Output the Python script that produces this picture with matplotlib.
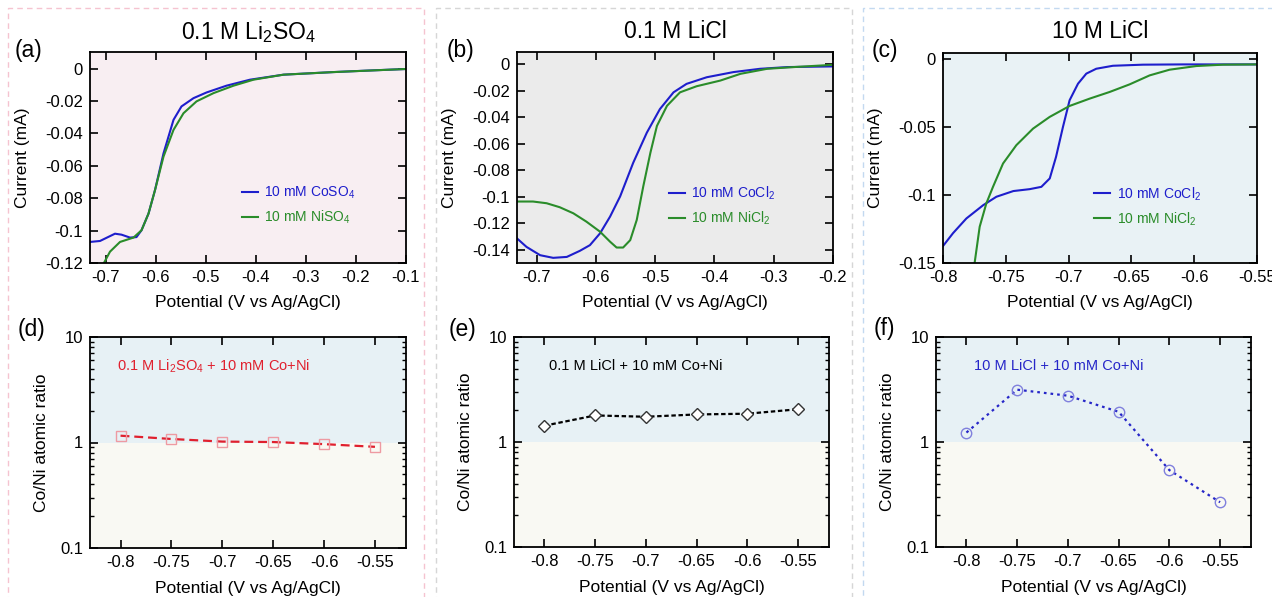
import matplotlib
matplotlib.use("Agg")
import matplotlib.pyplot as plt
import numpy as np
from matplotlib.patches import Rectangle
from matplotlib.ticker import MultipleLocator, FuncFormatter, LogLocator, NullFormatter

plt.rcParams["font.family"] = ["Liberation Sans", "DejaVu Sans"]
plt.rcParams["mathtext.fontset"] = "custom"
plt.rcParams["mathtext.rm"] = "Liberation Sans"
plt.rcParams["mathtext.it"] = "Liberation Sans:italic"
plt.rcParams["axes.unicode_minus"] = False

W, H = 1272, 597

BLUE = "#1e1ecc"
GREEN = "#2a8c2a"
RED = "#e0202e"

# ---- linear sweep voltammetry, 0.1 M Li2SO4 ----
a_co_v = [-0.732, -0.712, -0.682, -0.669, -0.652, -0.639, -0.629, -0.615, -0.602,
          -0.585, -0.565, -0.549, -0.525, -0.499, -0.459, -0.412, -0.345, -0.245,
          -0.179, -0.1]
a_co_i = [-0.107, -0.1064, -0.1019, -0.1025, -0.1043, -0.104, -0.0998, -0.0895, -0.075,
          -0.0523, -0.0316, -0.0233, -0.0182, -0.0147, -0.0105, -0.0068, -0.0037,
          -0.0021, -0.0012, -0.0002]
a_ni_v = [-0.712, -0.705, -0.692, -0.672, -0.645, -0.629, -0.615, -0.602, -0.585,
          -0.565, -0.545, -0.519, -0.485, -0.445, -0.405, -0.345, -0.245, -0.1]
a_ni_i = [-0.125, -0.1205, -0.113, -0.107, -0.1043, -0.0998, -0.0895, -0.075, -0.0543,
          -0.0378, -0.0275, -0.0202, -0.0151, -0.0105, -0.0068, -0.0037, -0.0021, -0.0002]

# ---- 0.1 M LiCl ----
b_co_v = [-0.733, -0.717, -0.694, -0.672, -0.649, -0.627, -0.61, -0.593, -0.576,
          -0.559, -0.537, -0.514, -0.492, -0.469, -0.447, -0.413, -0.368, -0.323,
          -0.277, -0.2]
b_co_i = [-0.1316, -0.138, -0.1443, -0.1463, -0.1456, -0.141, -0.1367, -0.1278, -0.1151,
          -0.0998, -0.0744, -0.0516, -0.0338, -0.0211, -0.0147, -0.0097, -0.0058,
          -0.0033, -0.002, -0.0015]
b_ni_v = [-0.733, -0.706, -0.683, -0.661, -0.638, -0.616, -0.593, -0.576, -0.565,
          -0.554, -0.542, -0.531, -0.52, -0.508, -0.497, -0.48, -0.458, -0.43, -0.39,
          -0.356, -0.311, -0.266, -0.2]
b_ni_i = [-0.1037, -0.1037, -0.105, -0.108, -0.1126, -0.1189, -0.1265, -0.1341, -0.1385,
          -0.1385, -0.1329, -0.1176, -0.0922, -0.0668, -0.0465, -0.0313, -0.0211,
          -0.0165, -0.0122, -0.0071, -0.0033, -0.002, -0.0003]

# ---- 10 M LiCl ----
c_co_v = [-0.8, -0.792, -0.7814, -0.768, -0.7575, -0.744, -0.731, -0.7217, -0.715,
          -0.71, -0.7045, -0.6992, -0.6925, -0.6859, -0.678, -0.6647, -0.6408, -0.609,
          -0.55]
c_co_i = [-0.1375, -0.128, -0.1172, -0.1074, -0.1012, -0.097, -0.0956, -0.0939, -0.0877,
          -0.0718, -0.0498, -0.0301, -0.0179, -0.0105, -0.0069, -0.0047, -0.0039,
          -0.0037, -0.0037]
c_ni_v = [-0.7756, -0.7748, -0.7708, -0.7655, -0.7602, -0.7522, -0.7416, -0.7283,
          -0.7151, -0.6992, -0.6832, -0.6673, -0.6514, -0.6355, -0.6196, -0.5983,
          -0.5771, -0.55]
c_ni_i = [-0.1527, -0.1498, -0.1233, -0.1061, -0.0939, -0.0767, -0.0632, -0.051,
          -0.0424, -0.0343, -0.0289, -0.024, -0.0184, -0.0118, -0.0076, -0.0049,
          -0.0039, -0.0037]

# ---- Co/Ni ratio in the deposits ----
dep_potential = [-0.8, -0.75, -0.7, -0.65, -0.6, -0.55]
ratio_li2so4 = [1.16, 1.08, 1.02, 1.01, 0.965, 0.91]
ratio_licl_dilute = [1.43, 1.79, 1.74, 1.83, 1.86, 2.05]
ratio_licl_conc = [1.23, 3.15, 2.76, 1.94, 0.54, 0.267]

titles = ["0.1 M Li$_2$SO$_4$", "0.1 M LiCl", "10 M LiCl"]
co_labels = ["10 mM CoSO$_4$", "10 mM CoCl$_2$", "10 mM CoCl$_2$"]
ni_labels = ["10 mM NiSO$_4$", "10 mM NiCl$_2$", "10 mM NiCl$_2$"]
notes = ["0.1 M Li$_2$SO$_4$ + 10 mM Co+Ni", "0.1 M LiCl + 10 mM Co+Ni",
         "10 M LiCl + 10 mM Co+Ni"]


def fmt(v, pos):
    return "0" if abs(v) < 1e-9 else f"{v:g}"


def px_axes(fig, left, right, top, bottom):
    return fig.add_axes([left / W, 1 - bottom / H, (right - left) / W, (bottom - top) / H])


def style(ax):
    ax.tick_params(which="both", direction="in", top=True, right=True,
                   labelsize=12, pad=5)
    ax.tick_params(which="major", length=6, width=1.2)
    ax.tick_params(which="minor", length=3, width=1.0)
    for s in ax.spines.values():
        s.set_linewidth(1.3)
    ax.xaxis.set_major_formatter(FuncFormatter(fmt))


fig = plt.figure(figsize=(W / 100, H / 100), dpi=100)

# dashed frames around each electrolyte column
for x0, x1, col in [(8, 424, "#f5c3d0"), (436, 852, "#d6d6d6"), (863, 1290, "#c3d9f0")]:
    fig.patches.append(Rectangle((x0 / W, -0.05), (x1 - x0) / W, 1.05 - 8 / H,
                                 transform=fig.transFigure, fill=False, ls=(0, (4, 3)),
                                 lw=1.0, edgecolor=col, zorder=0))

top_rects = [(90, 406, 52, 263), (517, 833, 52, 263), (943, 1257, 53, 263)]
bot_rects = [(90, 406, 337, 548), (514, 829, 337, 547), (936, 1251, 337, 547)]
bgs = ["#f8eef2", "#ebebeb", "#e9f2f5"]
xlims = [(-0.732, -0.1), (-0.733, -0.2), (-0.8, -0.55)]
ylims = [(-0.12, 0.0103), (-0.1502, 0.0094), (-0.15, 0.0047)]
xsteps = [0.1, 0.1, 0.05]
ysteps = [0.02, 0.02, 0.05]
curves = [(a_co_v, a_co_i, a_ni_v, a_ni_i), (b_co_v, b_co_i, b_ni_v, b_ni_i),
          (c_co_v, c_co_i, c_ni_v, c_ni_i)]
top_tags = [("(a)", 29), ("(b)", 461), ("(c)", 885)]

for k in range(3):
    ax = px_axes(fig, *top_rects[k])
    ax.set_facecolor(bgs[k])
    cv, ci, nv, ni = curves[k]
    ax.plot(cv, ci, color=BLUE, lw=1.5, label=co_labels[k])
    ax.plot(nv, ni, color=GREEN, lw=1.5, label=ni_labels[k])
    ax.set_xlim(*xlims[k])
    ax.set_ylim(*ylims[k])
    ax.xaxis.set_major_locator(MultipleLocator(xsteps[k]))
    ax.yaxis.set_major_locator(MultipleLocator(ysteps[k]))
    style(ax)
    ax.yaxis.set_major_formatter(FuncFormatter(fmt))
    ax.set_xlabel("Potential (V vs Ag/AgCl)", fontsize=12.5)
    ax.xaxis.set_label_coords(0.5, -0.15)
    ax.set_ylabel("Current (mA)", fontsize=12.5)
    ax.yaxis.set_label_coords(-0.19, 0.5)
    leg = ax.legend(loc="upper left", bbox_to_anchor=(0.44, 0.43), frameon=False,
                    fontsize=10, handlelength=1.2, handletextpad=0.45, labelspacing=0.55)
    for txt, line in zip(leg.get_texts(), leg.get_lines()):
        txt.set_color(line.get_color())
    cx = (top_rects[k][0] + top_rects[k][1]) / 2
    fig.text(cx / W, 1 - 32 / H, titles[k], fontsize=16.5, ha="center", va="center")
    tag, tx = top_tags[k]
    fig.text(tx / W, 1 - 50 / H, tag, fontsize=16.5, ha="center", va="center")

series = [
    (ratio_li2so4, RED, "s", "#ee9aa2", "none", (0, (4, 2.2)), RED),
    (ratio_licl_dilute, "black", "D", "#333333", "white", (0, (2, 1.2)), "black"),
    (ratio_licl_conc, "#2626c8", "o", "#8080dd", "none", (0, (1.2, 1.8)), "#2626c8"),
]
bot_tags = [("(d)", 31, 330), ("(e)", 463, 330), ("(f)", 884, 328)]
note_x = [0.085, 0.11, 0.12]

for k in range(3):
    ax = px_axes(fig, *bot_rects[k])
    ratio, lcol, mk, mec, mfc, ls, tcol = series[k]
    ax.set_yscale("log")
    ax.set_xlim(-0.83, -0.5195)
    ax.set_ylim(0.1, 10)
    ax.axhspan(1, 10, color="#e7f1f5", zorder=0, lw=0)
    ax.axhspan(0.1, 1, color="#f9f9f3", zorder=0, lw=0)
    ax.plot(dep_potential, ratio, color=lcol, ls=ls, lw=1.6, zorder=2)
    ax.plot(dep_potential, ratio, ls="none", marker=mk,
            ms=7.5 if mk != "D" else 6, mec=mec, mfc=mfc, mew=1.0, zorder=3)
    ax.xaxis.set_major_locator(MultipleLocator(0.05))
    ax.yaxis.set_major_locator(LogLocator(base=10))
    ax.yaxis.set_minor_locator(LogLocator(base=10, subs=np.arange(2, 10)))
    ax.yaxis.set_minor_formatter(NullFormatter())
    style(ax)
    ax.yaxis.set_major_formatter(FuncFormatter(fmt))
    ax.set_xlabel("Potential (V vs Ag/AgCl)", fontsize=12.5)
    ax.xaxis.set_label_coords(0.5, -0.155)
    ax.set_ylabel("Co/Ni atomic ratio", fontsize=12.5)
    ax.yaxis.set_label_coords(-0.13, 0.5)
    ax.text(note_x[k], 0.86, notes[k], transform=ax.transAxes, color=tcol,
            fontsize=10.5, ha="left", va="center")
    tag, tx, ty = bot_tags[k]
    fig.text(tx / W, 1 - ty / H, tag, fontsize=16.5, ha="center", va="center")

fig.savefig("out.png", dpi=100)
